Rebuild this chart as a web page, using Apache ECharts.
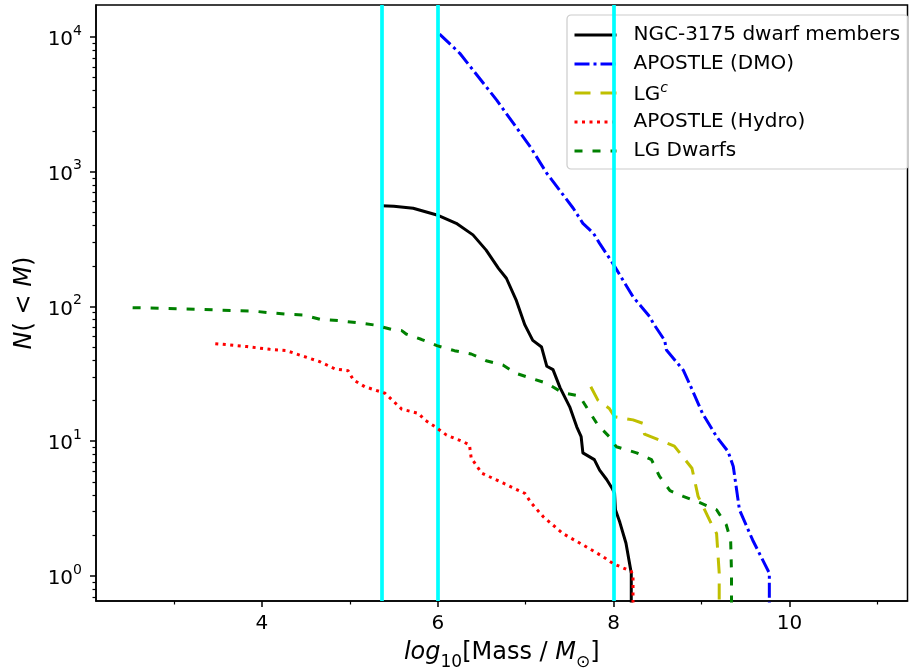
<!DOCTYPE html>
<html><head><meta charset="utf-8">
<script src="https://cdn.jsdelivr.net/npm/echarts@6/dist/echarts.min.js"></script>
<style>html,body{margin:0;padding:0;background:#fff}#c{width:909px;height:670px}</style>
</head><body><div id="c"></div>
<script>
// ---- data ----
const ngcX = [5.36,5.50,5.72,5.99,6.21,6.40,6.55,6.69,6.78,6.89,6.99,7.08,7.18,7.24,7.31,7.39,7.50,7.58,7.63,7.65,7.78,7.84,7.92,7.98,8.01,8.02,8.07,8.14,8.20,8.20];
const ngcN = [560,555,536,478,414,340,262,192,162,112,73,56,50,36,34,25,18,12.8,10.8,8.2,7.3,6.1,5.2,4.5,4.1,3.1,2.5,1.75,1.05,0.5];

const dmoX = [6.02,6.25,6.67,7.05,7.24,7.54,7.65,7.77,7.84,7.99,8.22,8.41,8.45,8.58,8.60,8.79,8.86,9.01,9.17,9.30,9.36,9.43,9.58,9.77,9.77];
const dmoN = [10500,7570,3400,1535,973,536,414,349,294,209,118,84,75,56,47.5,33.8,26.9,16.1,10.8,8.4,6.5,3.1,1.85,1.05,0.5];

const lgcX = [7.74,7.82,7.95,8.01,8.22,8.33,8.35,8.52,8.69,8.77,8.89,8.96,9.13,9.17,9.20,9.20];
const lgcN = [25.4,20.2,17.5,15.2,14.4,13.6,11.3,10.2,9.2,7.9,6.3,3.9,2.3,2.07,1.05,0.5];

const hydroX = [3.47,3.83,4.09,4.28,4.43,4.66,4.83,4.98,5.04,5.17,5.40,5.59,5.78,5.85,5.97,6.10,6.29,6.36,6.38,6.50,6.74,6.99,7.06,7.20,7.42,7.65,7.88,7.99,8.20,8.22,8.22];
const hydroN = [53,50.4,48.1,47,43.6,38.9,34.4,33.4,28.5,25.4,22.7,17.3,16.1,14.4,12.8,11.1,9.9,9.4,7.5,5.8,4.9,4.1,3.5,2.75,2.07,1.7,1.39,1.24,1.08,1.0,0.5];

const lgdX = [2.53,3.30,3.49,3.71,3.88,4.09,4.30,4.47,4.66,4.87,5.08,5.28,5.47,5.59,5.64,5.81,5.99,6.19,6.38,6.55,6.74,6.89,7.10,7.24,7.42,7.61,7.71,7.82,7.95,8.03,8.26,8.43,8.52,8.64,8.79,8.98,9.17,9.28,9.33,9.34,9.34];
const lgdN = [98,95.3,94.2,93.1,92.7,89.9,87.5,86.5,80.4,78.5,75.9,72.9,67.8,66.2,62.5,57.1,51.2,47.0,44.4,39.6,36.8,31.9,28.8,26.9,22.9,21.7,17.1,13.2,10.8,9.1,8.2,7.3,5.5,4.3,3.9,3.5,3.1,2.4,1.85,1.05,0.5];

const cyanX = [5.364, 6.0, 8.0];

const seriesNames = ['NGC-3175 dwarf members','APOSTLE (DMO)','LGc','APOSTLE (Hydro)','LG Dwarfs'];

const xMajorTicks = [4,6,8,10];
const xMinorTicks = [3,5,7,9,11];
const yMajorTicks = [1,10,100,1000,10000];
const yMinorTicks = [0.7,0.8,0.9,2,3,4,5,6,7,8,9,20,30,40,50,60,70,80,90,200,300,400,500,600,700,800,900,2000,3000,4000,5000,6000,7000,8000,9000];

const X_MIN = 2.1136, X_MAX = 11.341;
const Y_MIN = 0.652, Y_MAX = 17280;

// ---- chart ----
const FONT = 'DejaVu Sans';
const pairs = (xs, ns) => xs.map((x, i) => [x, ns[i]]);
const tickLine = {color:'#000', width:1.5};
const styles = [
  {color:'#000000', type:'solid'},
  {color:'#0000ff', type:[15,4,3,4]},
  {color:'#bfbf00', type:[16,10]},
  {color:'#ff0000', type:[3,4.5]},
  {color:'#008000', type:[8,10]}
];
const datasets = [[ngcX, ngcN], [dmoX, dmoN], [lgcX, lgcN], [hydroX, hydroN], [lgdX, lgdN]];

const series = seriesNames.map((name, k) => ({
  name, type:'line', data: pairs(datasets[k][0], datasets[k][1]),
  symbol:'none', showSymbol:false, clip:true, z:2 + k, silent:true,
  lineStyle:{color:styles[k].color, width:3, type:styles[k].type, cap:'butt', join:'round'},
  itemStyle:{color:styles[k].color}
}));
series.push({name:'cyan-lines', type:'line', data:[], symbol:'none', z:10, silent:true,
  markLine:{symbol:'none', silent:true, animation:false, label:{show:false},
    lineStyle:{color:'#00ffff', width:3.7, type:'solid'},
    emphasis:{disabled:true},
    data: cyanX.map(v => ({xAxis:v}))}});

const chart = echarts.init(document.getElementById('c'), null, {renderer:'canvas'});
chart.setOption({
  animation:false,
  backgroundColor:'#fff',
  grid:{left:96, top:5, right:1.5, bottom:69, show:true, borderColor:'#000', borderWidth:1.5,
        backgroundColor:'transparent', containLabel:false, outerBoundsMode:'none'},
  legend:{
    data: seriesNames.map((name, k) => ({
      name,
      itemStyle:{opacity:0, borderWidth:0},
      lineStyle:{color:styles[k].color, width:3, type:styles[k].type, opacity:1}
    })),
    orient:'vertical', left:567, top:15,
    itemWidth:42, itemHeight:14, itemGap:5,
    padding:[8,8,6,6],
    backgroundColor:'rgba(255,255,255,0.8)', borderColor:'#cccccc', borderWidth:1.2, borderRadius:4,
    selectedMode:false,
    formatter: n => n === 'LGc' ? '{n|LG}{c|c}' : n,
    textStyle:{fontFamily:FONT, fontSize:20, color:'#000', lineHeight:24, padding:[0,0,0,12],
      rich:{
        n:{fontFamily:FONT, fontSize:20, color:'#000', lineHeight:24, verticalAlign:'bottom'},
        c:{fontFamily:FONT, fontSize:14, fontStyle:'italic', color:'#000', lineHeight:16, verticalAlign:'top'}
      }}
  },
  xAxis:[
    {type:'value', min:X_MIN, max:X_MAX, position:'bottom',
     axisLine:{show:true, onZero:false, lineStyle:tickLine},
     axisTick:{show:true, customValues:xMajorTicks, length:6, inside:false, lineStyle:tickLine},
     axisLabel:{show:true, customValues:xMajorTicks, fontFamily:FONT, fontSize:20, color:'#000', margin:13},
     splitLine:{show:false},
     name:'{i|log}{sub|10}{r|[Mass / }{i|M}{sub|⊙}{r|]}',
     nameLocation:'middle', nameGap:40,
     nameTextStyle:{fontFamily:FONT, fontSize:24, color:'#000',
       rich:{
         i:{fontFamily:FONT, fontSize:24, fontStyle:'italic', color:'#000', lineHeight:30, verticalAlign:'top'},
         r:{fontFamily:FONT, fontSize:24, color:'#000', lineHeight:30, verticalAlign:'top'},
         sub:{fontFamily:FONT, fontSize:17, color:'#000', lineHeight:18, verticalAlign:'bottom'}
       }}
    },
    {type:'value', min:X_MIN, max:X_MAX, position:'bottom',
     axisLine:{show:false, onZero:false},
     axisTick:{show:true, customValues:xMinorTicks, length:3.5, inside:false, lineStyle:{color:'#000', width:1.2}},
     axisLabel:{show:false}, splitLine:{show:false}}
  ],
  yAxis:[
    {type:'log', logBase:10, min:Y_MIN, max:Y_MAX, position:'left',
     axisLine:{show:true, onZero:false, lineStyle:tickLine},
     axisTick:{show:true, customValues:yMajorTicks, length:6, inside:false, lineStyle:tickLine},
     axisLabel:{show:true, customValues:yMajorTicks, margin:14,
       formatter: v => '{b|10}{s|' + Math.round(Math.log10(v)) + '}',
       rich:{
         b:{fontFamily:FONT, fontSize:20, color:'#000', lineHeight:26, verticalAlign:'bottom'},
         s:{fontFamily:FONT, fontSize:14, color:'#000', lineHeight:16, verticalAlign:'top'}
       }},
     splitLine:{show:false}, minorTick:{show:false},
     name:'{i|N}{r|( < }{i|M}{r|)}',
     nameLocation:'middle', nameGap:58,
     nameTextStyle:{fontFamily:FONT, fontSize:24, color:'#000',
       rich:{
         i:{fontFamily:FONT, fontSize:24, fontStyle:'italic', color:'#000'},
         r:{fontFamily:FONT, fontSize:24, color:'#000'}
       }}
    },
    {type:'log', logBase:10, min:Y_MIN, max:Y_MAX, position:'left',
     axisLine:{show:false, onZero:false},
     axisTick:{show:true, customValues:yMinorTicks, length:3.5, inside:false, lineStyle:{color:'#000', width:1.2}},
     axisLabel:{show:false}, splitLine:{show:false}}
  ],
  series
});
</script></body></html>
